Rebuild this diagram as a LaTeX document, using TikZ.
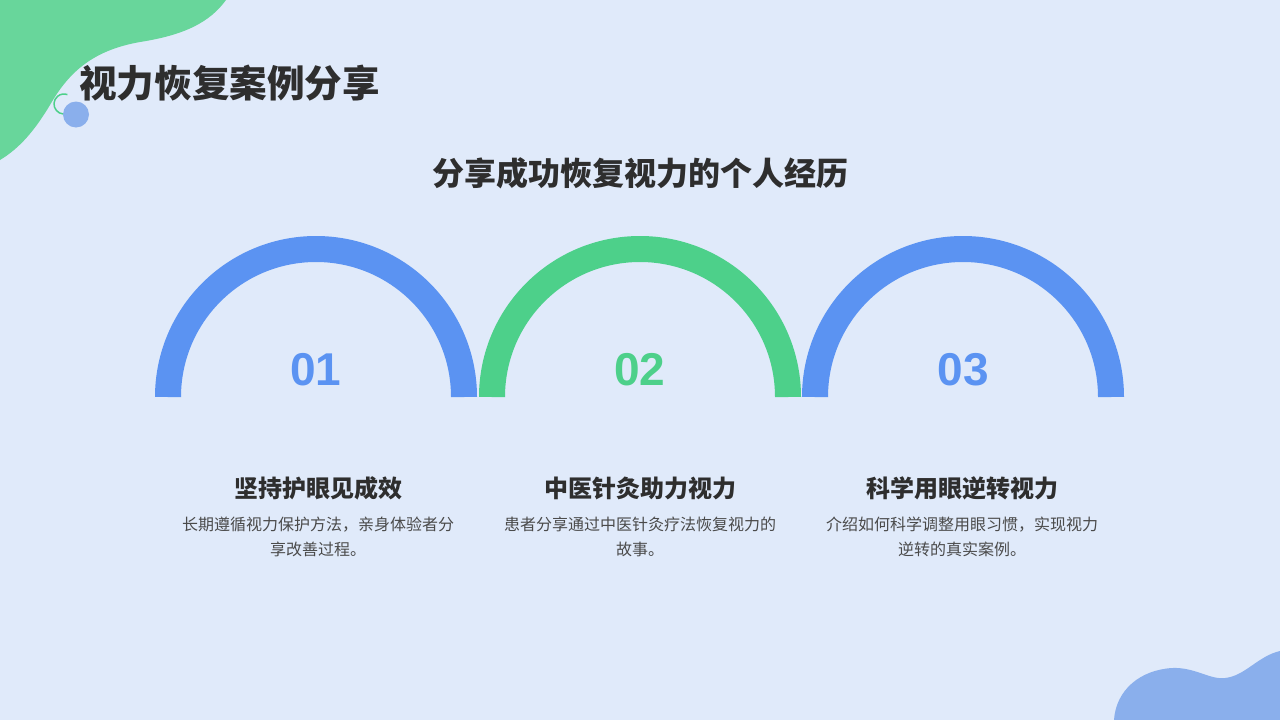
\documentclass[tikz,border=0pt]{standalone}
\usepackage{fontspec}
\setmainfont{Liberation Sans}
\newfontfamily\cjk{Noto Sans CJK SC}
\definecolor{bgc}{HTML}{E0EAFA}
\definecolor{blobgreen}{HTML}{68D69B}
\definecolor{blobblue}{HTML}{8AAFEC}
\definecolor{arcblue}{HTML}{5B93F2}
\definecolor{arcgreen}{HTML}{4DD08A}
\definecolor{darktext}{HTML}{2E2E2E}
\definecolor{bodytext}{HTML}{4A4A4A}
\tikzset{
  titletext/.style={inner sep=0pt, text=darktext, font=\cjk\bfseries\fontsize{37.6}{44}\selectfont},
  subtitletext/.style={inner sep=0pt, text=darktext, font=\cjk\bfseries\fontsize{32}{38}\selectfont},
  headtext/.style={inner sep=0pt, text=darktext, font=\cjk\bfseries\fontsize{24}{29}\selectfont},
  bodytextstyle/.style={inner sep=0pt, text=bodytext, align=center, font=\cjk\fontsize{16}{25}\selectfont},
  numtext/.style={inner sep=0pt, font=\bfseries\fontsize{46}{54}\selectfont},
  halfring/.style={line width=26pt, line cap=butt}
}
\begin{document}
\begin{tikzpicture}[x=1pt,y=-1pt]
\useasboundingbox (0,0) rectangle (1280,720);
\fill[bgc] (0,0) rectangle (1280,720);
% top-left blob
\fill[blobgreen] (0,0) -- (226,0) .. controls (210,22) and (185,35) .. (140,42)
  .. controls (95,50) and (70,70) .. (50,105)
  .. controls (35,130) and (20,148) .. (0,160) -- cycle;
% small decorations
\draw[arcgreen, line width=1.5pt] (64,104) ++(50:10) arc (50:290:10);
\fill[blobblue] (76,114.5) circle (13);
% bottom-right blob
\fill[blobblue] (1114,720) .. controls (1116,690) and (1140,670) .. (1172,668)
  .. controls (1195,667) and (1210,680) .. (1225,678)
  .. controls (1245,676) and (1258,656) .. (1280,651) -- (1280,720) -- cycle;
% titles
\node[titletext, anchor=west] (title) at (79,83) {视力恢复案例分享};
\node[subtitletext] (subtitle) at (640,173) {分享成功恢复视力的个人经历};
% half rings
\draw[halfring, arcblue] (168,397) arc (180:360:148);
\draw[halfring, arcgreen] (492,397) arc (180:360:148);
\draw[halfring, arcblue] (815,397) arc (180:360:148);
% numbers
\node[numtext, text=arcblue] (n1) at (316,370) {01};
\node[numtext, text=arcgreen] (n2) at (640,370) {02};
\node[numtext, text=arcblue] (n3) at (963,370) {03};
% headings
\node[headtext] (h1) at (318,488) {坚持护眼见成效};
\node[headtext] (h2) at (640,488) {中医针灸助力视力};
\node[headtext] (h3) at (962,488) {科学用眼逆转视力};
% bodies
\node[bodytextstyle, anchor=north] (b1) at (318,517) {长期遵循视力保护方法，亲身体验者分\\享改善过程。};
\node[bodytextstyle, anchor=north] (b2) at (640,517) {患者分享通过中医针灸疗法恢复视力的\\故事。};
\node[bodytextstyle, anchor=north] (b3) at (962,517) {介绍如何科学调整用眼习惯，实现视力\\逆转的真实案例。};
\end{tikzpicture}
\end{document}
